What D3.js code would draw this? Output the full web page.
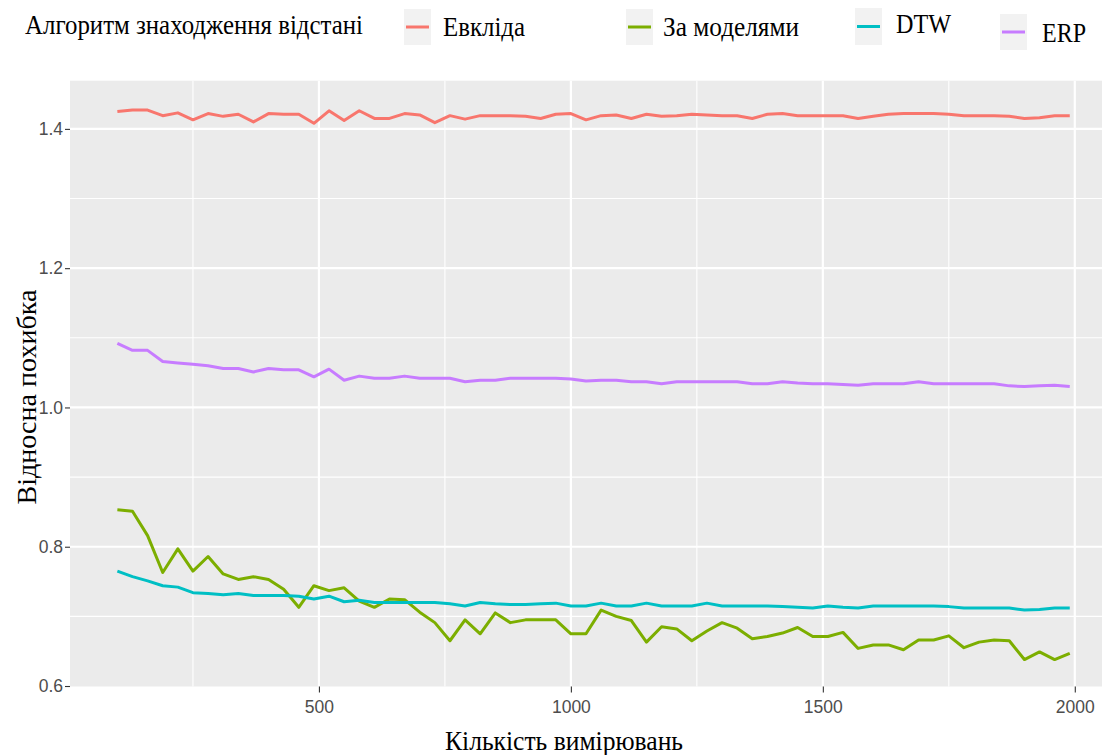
<!DOCTYPE html>
<html>
<head>
<meta charset="utf-8">
<script src="https://cdn.jsdelivr.net/npm/d3@7"></script>
<style>
  html, body { margin: 0; padding: 0; background: #ffffff; }
  svg { display: block; }
</style>
</head>
<body>
<svg id="chart" width="1106" height="755"></svg>
<script>
// ---------- DATA ----------
const measurements = [100,130,160,190,220,250,280,310,340,370,400,430,460,490,520,550,580,610,640,670,700,730,760,790,820,850,880,910,940,970,1000,1030,1060,1090,1120,1150,1180,1210,1240,1270,1300,1330,1360,1390,1420,1450,1480,1510,1540,1570,1600,1630,1660,1690,1720,1750,1780,1810,1840,1870,1900,1930,1960,1990];

const euclid = [1.425,1.427,1.427,1.419,1.423,1.413,1.422,1.418,1.421,1.410,1.422,1.421,1.421,1.408,1.426,1.412,1.426,1.415,1.415,1.422,1.420,1.409,1.419,1.414,1.419,1.419,1.419,1.418,1.415,1.421,1.422,1.413,
                1.419,1.420,1.415,1.421,1.418,1.419,1.421,1.420,1.419,1.419,1.415,1.421,1.422,1.419,1.419,1.419,1.419,1.415,1.418,1.421,1.422,1.422,1.422,1.421,1.419,1.419,1.419,1.418,1.415,1.416,1.419,1.419];

const models = [0.853,0.851,0.816,0.763,0.797,0.765,0.786,0.761,0.753,0.757,0.753,0.739,0.713,0.744,0.737,0.741,0.722,0.713,0.725,0.724,0.706,0.691,0.665,0.695,0.675,0.705,
                0.691,0.695,0.695,0.695,0.675,0.675,0.709,0.700,0.694,0.663,0.685,0.682,0.665,0.679,0.691,0.683,0.668,0.671,0.676,0.684,
                0.671,0.671,0.677,0.654,0.659,0.659,0.652,0.666,0.666,0.672,0.655,0.663,0.666,0.665,0.638,0.649,0.638,0.647];

const dtw = [0.765,0.757,0.751,0.744,0.742,0.734,0.733,0.731,0.733,0.730,0.730,0.730,0.729,0.725,0.729,0.721,0.723,0.720,0.720,0.720,0.720,0.720,0.718,0.715,0.720,0.718,
             0.717,0.717,0.718,0.719,0.715,0.715,0.719,0.715,0.715,0.719,0.715,0.715,0.715,0.719,0.715,0.715,0.715,0.715,0.714,0.713,
             0.712,0.715,0.713,0.712,0.715,0.715,0.715,0.715,0.715,0.714,0.712,0.712,0.712,0.712,0.709,0.710,0.712,0.712];

const erp = [1.092,1.082,1.082,1.066,1.064,1.062,1.060,1.056,1.056,1.051,1.056,1.054,1.054,1.044,1.055,1.039,1.045,1.042,1.042,1.045,1.042,1.042,1.042,1.037,1.039,1.039,1.042,1.042,1.042,1.042,1.041,1.038,
             1.039,1.039,1.037,1.037,1.034,1.037,1.037,1.037,1.037,1.037,1.034,1.034,1.037,1.035,1.034,1.034,1.033,1.032,1.034,1.034,1.034,1.037,1.034,1.034,1.034,1.034,1.034,1.031,1.030,1.031,1.032,1.030];

const seriesNames = ["Евкліда", "За моделями", "DTW", "ERP"];
const seriesValues = [euclid, models, dtw, erp];
const seriesColors = ["#F8766D", "#7CAE00", "#00BFC4", "#C77CFF"];

const xTicks = [500, 1000, 1500, 2000];
const xMinorTicks = [250, 750, 1250, 1750];
const yTicks = [0.6, 0.8, 1.0, 1.2, 1.4];
const yMinorTicks = [0.7, 0.9, 1.1, 1.3];

const legendTitle = "Алгоритм знаходження відстані";
const xLabel = "Кількість вимірювань";
const yLabel = "Відносна похибка";

// ---------- LAYOUT ----------
const panel = { left: 70, right: 1102, top: 80.7, bottom: 686.5 };
const svg = d3.select("#chart");

const x = d3.scaleLinear().domain([6, 2054]).range([panel.left, panel.right]);
const y = d3.scaleLinear().domain([0.5993, 1.4692]).range([panel.bottom, panel.top]);

// panel background
svg.append("rect")
  .attr("x", panel.left).attr("y", panel.top)
  .attr("width", panel.right - panel.left).attr("height", panel.bottom - panel.top)
  .attr("fill", "#EBEBEB");

const grid = svg.append("g");
// minor grid
grid.selectAll("line.xmin").data(xMinorTicks).enter().append("line")
  .attr("x1", d => x(d)).attr("x2", d => x(d))
  .attr("y1", panel.top).attr("y2", panel.bottom)
  .attr("stroke", "#ffffff").attr("stroke-width", 1.1);
grid.selectAll("line.ymin").data(yMinorTicks).enter().append("line")
  .attr("y1", d => y(d)).attr("y2", d => y(d))
  .attr("x1", panel.left).attr("x2", panel.right)
  .attr("stroke", "#ffffff").attr("stroke-width", 1.1);
// major grid
grid.selectAll("line.xmaj").data(xTicks).enter().append("line")
  .attr("x1", d => x(d)).attr("x2", d => x(d))
  .attr("y1", panel.top).attr("y2", panel.bottom)
  .attr("stroke", "#ffffff").attr("stroke-width", 2.2);
grid.selectAll("line.ymaj").data(yTicks.filter(d => y(d) < panel.bottom - 1)).enter().append("line")
  .attr("y1", d => y(d)).attr("y2", d => y(d))
  .attr("x1", panel.left).attr("x2", panel.right)
  .attr("stroke", "#ffffff").attr("stroke-width", 2.2);

// lines
const line = d3.line().x((d, i) => x(measurements[i])).y(d => y(d));
seriesValues.forEach((vals, k) => {
  svg.append("path")
    .datum(vals)
    .attr("d", line)
    .attr("fill", "none")
    .attr("stroke", seriesColors[k])
    .attr("stroke-width", 3)
    .attr("stroke-linejoin", "round")
    .attr("stroke-linecap", "butt");
});

// axes
const xAxis = svg.append("g")
  .attr("transform", `translate(0,${panel.bottom})`)
  .call(d3.axisBottom(x).tickValues(xTicks).tickSize(6).tickPadding(8).tickFormat(d3.format("d")));
const yAxis = svg.append("g")
  .attr("transform", `translate(${panel.left},0)`)
  .call(d3.axisLeft(y).tickValues(yTicks).tickSize(5).tickPadding(2).tickFormat(d3.format(".1f")));
[xAxis, yAxis].forEach(a => {
  a.attr("font-size", null).attr("font-family", null);
  a.select(".domain").remove();
  a.selectAll(".tick line").attr("stroke", "#333333").attr("stroke-width", 1.1);
  a.selectAll(".tick text")
    .attr("fill", "#4d4d4d")
    .attr("font-family", "'Liberation Sans', Arial, sans-serif")
    .attr("font-size", 17.5);
});

// axis titles
svg.append("text")
  .attr("x", 564).attr("y", 750)
  .attr("text-anchor", "middle")
  .style("font-family", "'Liberation Serif', 'Times New Roman', serif")
  .style("font-size", "27px")
  .attr("textLength", 238).attr("lengthAdjust", "spacingAndGlyphs")
  .attr("fill", "#000")
  .text(xLabel);

svg.append("text")
  .attr("transform", "translate(36,397) rotate(-90)")
  .attr("text-anchor", "middle")
  .style("font-family", "'Liberation Serif', 'Times New Roman', serif")
  .style("font-size", "27px")
  .attr("textLength", 215).attr("lengthAdjust", "spacingAndGlyphs")
  .attr("fill", "#000")
  .text(yLabel);

// legend
svg.append("text")
  .attr("x", 25).attr("y", 34)
  .style("font-family", "'Liberation Serif', 'Times New Roman', serif")
  .style("font-size", "27px")
  .attr("textLength", 338).attr("lengthAdjust", "spacingAndGlyphs")
  .attr("fill", "#000")
  .text(legendTitle);

const legendItems = [
  { kx: 404, ky: 9,  kh: 36, tx: 443, ty: 36, tw: 82 },
  { kx: 626, ky: 9,  kh: 36, tx: 663, ty: 36, tw: 136 },
  { kx: 855, ky: 8,  kh: 37, tx: 896, ty: 33, tw: 55 },
  { kx: 1000, ky: 14, kh: 36, tx: 1042, ty: 42, tw: 44 }
];
legendItems.forEach((it, k) => {
  const g = svg.append("g");
  g.append("rect")
    .attr("x", it.kx).attr("y", it.ky).attr("width", 27).attr("height", it.kh)
    .attr("fill", "#F2F2F2");
  g.append("line")
    .attr("x1", it.kx + 2).attr("x2", it.kx + 25)
    .attr("y1", it.ky + it.kh / 2).attr("y2", it.ky + it.kh / 2)
    .attr("stroke", seriesColors[k]).attr("stroke-width", 3);
  g.append("text")
    .attr("x", it.tx).attr("y", it.ty)
    .style("font-family", "'Liberation Serif', 'Times New Roman', serif")
    .style("font-size", "27px")
    .attr("textLength", it.tw).attr("lengthAdjust", "spacingAndGlyphs")
    .attr("fill", "#000")
    .text(seriesNames[k]);
});
</script>
</body>
</html>
